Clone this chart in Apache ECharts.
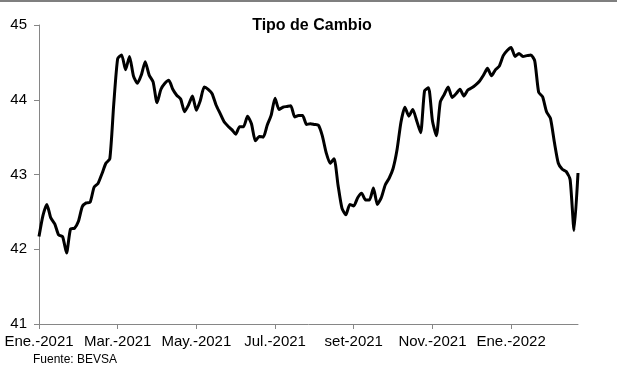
<!DOCTYPE html>
<html>
<head>
<meta charset="utf-8">
<script src="https://cdn.jsdelivr.net/npm/echarts@6/dist/echarts.min.js"></script>
<style>html,body{margin:0;padding:0;background:#fff;}#c{width:617px;height:372px;}</style>
</head>
<body>
<div id="c"></div>
<script>
const tickLabels = ["Ene.-2021", "Mar.-2021", "May.-2021", "Jul.-2021", "set-2021", "Nov.-2021", "Ene.-2022"];
const pointsPerTick = 20;
const tipoDeCambio = [
  42.17, 42.45, 42.60, 42.42, 42.34, 42.19, 42.17, 41.95, 42.27, 42.28,
  42.37, 42.57, 42.62, 42.63, 42.83, 42.88, 43.01, 43.15, 43.21, 43.94,
  44.55, 44.60, 44.40, 44.58, 44.32, 44.22, 44.33, 44.51, 44.33, 44.24,
  43.96, 44.14, 44.22, 44.26, 44.14, 44.06, 44.01, 43.84, 43.93, 44.05,
  43.86, 43.99, 44.17, 44.14, 44.08, 43.93, 43.82, 43.71, 43.65, 43.60,
  43.54, 43.64, 43.64, 43.78, 43.68, 43.45, 43.51, 43.50, 43.66, 43.79,
  44.02, 43.87, 43.90, 43.91, 43.92, 43.77, 43.79, 43.79, 43.67, 43.68,
  43.67, 43.66, 43.52, 43.29, 43.15, 43.21, 42.86, 42.55, 42.46, 42.60,
  42.58, 42.69, 42.75, 42.66, 42.66, 42.82, 42.60, 42.69, 42.86, 42.95,
  43.08, 43.33, 43.70, 43.90, 43.78, 43.87, 43.72, 43.56, 44.12, 44.16,
  43.72, 43.52, 43.97, 44.07, 44.17, 44.03, 44.08, 44.14, 44.05, 44.13,
  44.16, 44.20, 44.25, 44.33, 44.42, 44.32, 44.40, 44.45, 44.59, 44.66,
  44.70, 44.58, 44.62, 44.58, 44.59, 44.60, 44.52, 44.10, 44.04, 43.84,
  43.75, 43.43, 43.15, 43.07, 43.04, 42.93, 42.25, 43.02
];
const yMin = 41, yMax = 45, yStep = 1;

const categories = tipoDeCambio.map((v, i) =>
  (i % pointsPerTick === 0 && tickLabels[i / pointsPerTick]) ? tickLabels[i / pointsPerTick] : String(i));

const chart = echarts.init(document.getElementById('c'), null, {renderer: 'canvas'});
const axisGrey = '#868686';
const font = 'Liberation Sans, Arial, sans-serif';
chart.setOption({
  animation: false,
  backgroundColor: '#ffffff',
  title: {
    text: 'Tipo de Cambio',
    left: 307, top: 13, textAlign: 'center',
    textStyle: {fontFamily: font, fontWeight: 'bold', fontSize: 16, color: '#000'}
  },
  graphic: [
    {type: 'line', shape: {x1: 0, y1: 1, x2: 617, y2: 1}, style: {stroke: '#7f7f7f', lineWidth: 2}},
    {type: 'text', left: 33, top: 354, style: {text: 'Fuente: BEVSA', font: '12px ' + font, fill: '#000'}}
  ],
  grid: {left: 39, right: 39, top: 25, bottom: 48, containLabel: false},
  xAxis: {
    type: 'category',
    data: categories,
    boundaryGap: false,
    axisLine: {lineStyle: {color: axisGrey, width: 1}},
    axisTick: {show: true, interval: pointsPerTick - 1, length: 5, lineStyle: {color: axisGrey}},
    axisLabel: {
      interval: pointsPerTick - 1, margin: 10,
      formatter: (v, i) => (i % pointsPerTick === 0 ? v : ''),
      fontFamily: font, fontSize: 15, color: '#000'
    },
    splitLine: {show: false}
  },
  yAxis: {
    type: 'value', min: yMin, max: yMax, interval: yStep,
    axisLine: {show: true, lineStyle: {color: axisGrey, width: 1}},
    axisTick: {show: true, length: 5, lineStyle: {color: axisGrey}},
    axisLabel: {margin: 12, fontFamily: font, fontSize: 15, color: '#000'},
    splitLine: {show: false}
  },
  series: [{
    type: 'line',
    data: tipoDeCambio,
    showSymbol: false,
    smooth: 0.2,
    lineStyle: {color: '#000', width: 3},
    itemStyle: {color: '#000'}
  }]
});
</script>
</body>
</html>
